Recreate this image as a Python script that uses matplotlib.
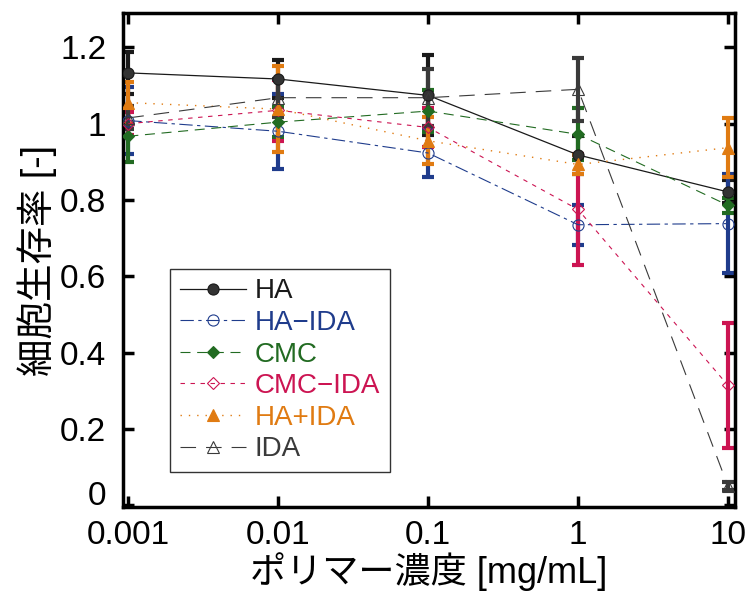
import numpy as np
import matplotlib
matplotlib.use("Agg")
import matplotlib.pyplot as plt

plt.rcParams['font.family'] = ['Liberation Sans', 'Noto Sans CJK JP', 'DejaVu Sans']

# polymer concentration [mg/mL]
conc = [0.001, 0.01, 0.1, 1, 10]

names = ["HA", "HA\u2212IDA", "CMC", "CMC\u2212IDA", "HA+IDA", "IDA"]

ha = [1.133, 1.117, 1.074, 0.918, 0.821]
ha_err = [0.055, 0.05, 0.105, 0.05, 0.03]

ha_ida = [1.008, 0.980, 0.923, 0.735, 0.738]
ha_ida_err = [0.087, 0.098, 0.063, 0.053, 0.13]

cmc = [0.967, 1.004, 1.033, 0.972, 0.786]
cmc_err = [0.067, 0.04, 0.056, 0.068, 0.02]

cmc_ida = [1.0, 1.035, 0.99, 0.775, 0.314]
cmc_ida_err = [0.03, 0.08, 0.05, 0.145, 0.163]

ha_plus_ida = [1.055, 1.038, 0.955, 0.893, 0.937]
ha_plus_ida_err = [0.055, 0.112, 0.062, 0.025, 0.078]

ida = [1.015, 1.068, 1.068, 1.090, 0.05]
ida_err = [0.03, 0.05, 0.075, 0.082, 0.01]

fig = plt.figure(figsize=(7.45, 5.91), dpi=100)
ax = fig.add_axes([0.165, 0.142, 0.822, 0.836])

series = [
    (ha, ha_err, "#1a1a1a", "-", "o", "#333333", 8, 0.9),
    (ha_ida, ha_ida_err, "#1f3c8c", (0, (12, 4, 3, 4)), "o", "none", 8, 0.8),
    (cmc, cmc_err, "#226b22", (0, (9, 6)), "D", "#226b22", 6, 0.8),
    (cmc_ida, cmc_ida_err, "#cc1452", (0, (4, 5)), "D", "none", 6, 0.8),
    (ha_plus_ida, ha_plus_ida_err, "#e07b12", (0, (1, 5)), "^", "#e07b12", 8, 1.0),
    (ida, ida_err, "#3a3a3a", (0, (14, 9)), "^", "none", 8, 0.8),
]

for (y, e, c, ls, m, mfc, ms, lw), name in zip(series, names):
    ax.errorbar(conc, y, yerr=e, color=c, ls="none", elinewidth=3,
                capsize=4, capthick=3, zorder=2)
    ax.plot(conc, y, color=c, ls=ls, lw=lw, marker=m, markersize=ms,
            markerfacecolor=mfc, markeredgecolor=c, markeredgewidth=0.8,
            label=name, zorder=3)

ax.set_xscale("log")
ax.set_xlim(0.00092, 11.2)
ax.set_ylim(-0.005, 1.29)
ax.set_xticks(conc)
ax.set_xticklabels(["0.001", "0.01", "0.1", "1", "10"])
ax.set_yticks([0, 0.2, 0.4, 0.6, 0.8, 1.0, 1.2])
ax.set_yticklabels(["0", "0.2", "0.4", "0.6", "0.8", "1", "1.2"])
ax.minorticks_off()

ax.tick_params(direction="in", length=8, width=2.5, labelsize=24,
               top=True, right=True)
ax.tick_params(axis="y", pad=12)
ax.tick_params(axis="x", pad=9)
for s in ax.spines.values():
    s.set_linewidth(2.5)

# the "0" sits a little higher so it clears "0.001"
ax.get_yticklabels()[0].set_verticalalignment("baseline")

ax.set_xlabel("ポリマー濃度 [mg/mL]", fontsize=26, labelpad=1)
ax.set_ylabel("細胞生存率 [-]", fontsize=27, labelpad=2)

leg = ax.legend(loc="lower left", bbox_to_anchor=(0.077, 0.071),
                borderaxespad=0, fontsize=20, frameon=True, fancybox=False,
                edgecolor="black", handlelength=2.4, handletextpad=0.3,
                labelspacing=0.2, borderpad=0.35)
leg.get_frame().set_linewidth(1.0)
for t, s in zip(leg.get_texts(), series):
    t.set_color(s[2])

fig.savefig("out.png", dpi=100)
